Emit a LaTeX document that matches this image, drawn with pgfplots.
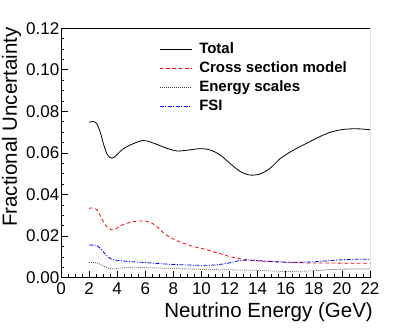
\documentclass[border=0pt]{standalone}
\usepackage{fontspec}
\setmainfont{Liberation Sans}
\usepackage{pgfplots}
\pgfplotsset{compat=1.18}

\begin{document}
\begin{tikzpicture}
\begin{axis}[
 scale only axis, width=309bp, height=249.4bp,
 xmin=0, xmax=22, ymin=0, ymax=0.12,
 xtick={0,2,...,22}, minor x tick num=3,
 ytick={0,0.02,...,0.12}, minor y tick num=3,
 axis x line*=bottom, axis y line*=left,
 tick align=inside, major tick length=7bp, minor tick length=3.5bp,
 tick style={black, line width=0.8bp},
 axis line style={line width=0.9bp},
 /pgf/number format/assume math mode=true,
 yticklabel style={/pgf/number format/fixed, /pgf/number format/precision=2,
   /pgf/number format/fixed zerofill, inner sep=0pt, anchor=east, xshift=-1.5bp},
 scaled y ticks=false,
 xticklabel style={inner sep=0pt, anchor=north, yshift=-5bp},
 tick label style={font=\fontsize{17bp}{17bp}\selectfont},
 label style={font=\fontsize{20.5bp}{20.5bp}\selectfont},
 xlabel={Neutrino Energy (GeV)},
 xlabel style={at={(rel axis cs:1,0)}, anchor=base east, yshift=-40bp, xshift=3bp, inner sep=0pt},
 ylabel={Fractional Uncertainty},
 ylabel style={at={([xshift=-44bp,yshift=1bp]rel axis cs:0,1)}, anchor=base east, inner sep=0pt},
 legend style={draw=none, fill=none, inner sep=0pt, at={(rel axis cs:0.318,0.945)}, anchor=north west,
   font=\bfseries\fontsize{15bp}{15bp}\selectfont, row sep=5bp,
   nodes={inner sep=0pt, text height=11bp, text depth=3bp},
   /tikz/every odd column/.append style={column sep=7bp}},
 legend cell align=left,
 legend image code/.code={\draw[#1] (0bp,0bp) -- (32bp,0bp);},
]
\addplot[black, line width=0.8bp, smooth] table {
2.0 0.0748
2.3 0.0752
2.54 0.0741
2.78 0.0703
3.01 0.0647
3.25 0.0599
3.45 0.0580
3.61 0.0575
3.8 0.0580
3.96 0.0590
4.43 0.0620
5.15 0.0645
5.86 0.0660
6.57 0.0648
7.52 0.0623
8.23 0.0610
8.95 0.0613
9.89 0.0621
10.6 0.0615
11.3 0.0592
12.0 0.0552
12.74 0.0512
13.45 0.0494
14.16 0.0499
14.88 0.0526
15.59 0.0572
16.3 0.0604
17.0 0.0630
17.7 0.0654
18.4 0.0678
19.1 0.0698
19.86 0.0711
20.57 0.0716
21.28 0.0716
22.0 0.0712
};
\addlegendentry{Total}
\addplot[red, line width=0.8bp, smooth, dash pattern=on 3.5bp off 2.8bp] table {
2.0 0.0334
2.3 0.0336
2.54 0.0328
2.78 0.0300
3.01 0.0270
3.2 0.0250
3.37 0.0238
3.6 0.0231
3.8 0.0231
4.32 0.0252
5.02 0.0268
5.73 0.0273
6.33 0.0267
6.81 0.0247
7.4 0.0210
8.11 0.0182
8.83 0.0163
9.54 0.0148
10.25 0.0137
11.2 0.0118
11.9 0.0104
12.6 0.0093
13.8 0.0082
15.2 0.0077
16.4 0.0074
17.6 0.0071
18.8 0.0071
20.0 0.0070
22.0 0.0069
};
\addlegendentry{Cross section model}
\addplot[black!75, line width=0.8bp, smooth, dash pattern=on 0.8bp off 1.2bp] table {
2.0 0.0074
2.6 0.0070
3.08 0.0054
3.6 0.0043
4.32 0.0047
5.27 0.0050
7.64 0.0045
10.0 0.0040
11.9 0.0038
14.0 0.0035
15.9 0.0030
17.0 0.0031
17.6 0.0032
19.5 0.0040
21.0 0.0042
22.0 0.0042
};
\addlegendentry{Energy scales}
\addplot[blue, line width=0.8bp, smooth, dash pattern=on 4bp off 1.5bp on 1bp off 1.5bp] table {
2.0 0.0157
2.54 0.0155
2.78 0.0142
3.01 0.0125
3.2 0.0110
3.37 0.0098
3.6 0.0090
3.84 0.0085
4.79 0.0078
5.98 0.0073
7.64 0.0065
9.54 0.0060
10.7 0.0060
11.3 0.0064
11.9 0.0070
12.6 0.0081
13.3 0.0085
14.3 0.0081
15.7 0.0075
16.9 0.0074
18.1 0.0077
19.5 0.0084
20.5 0.0088
22.0 0.0089
};
\addlegendentry{FSI}
\draw[line width=0.9bp] (rel axis cs:0,1) -- (rel axis cs:1,1) -- (rel axis cs:1,0);
\end{axis}
\path[use as bounding box] (-61bp,-50.3bp) rectangle (346bp,277.7bp);
\end{tikzpicture}
\end{document}
